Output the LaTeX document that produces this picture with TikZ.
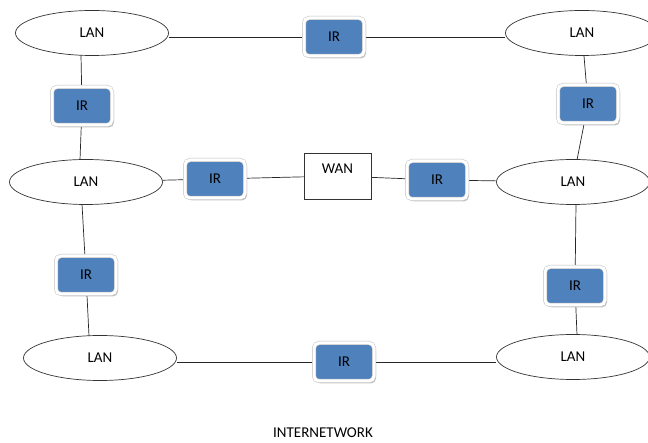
\documentclass[tikz,border=0pt]{standalone}
\usepackage{fontspec}
\setmainfont{Carlito}
\usetikzlibrary{shapes.geometric,shadows,backgrounds}
\definecolor{irblue}{HTML}{4F81BD}
\tikzset{
  lan/.style={ellipse,draw=black!80,line width=0.7pt,fill=white,minimum width=153pt,minimum height=45pt,inner sep=0pt,font=\fontsize{15}{17}\selectfont},
  irbox/.style={rectangle,rounded corners=5pt,fill=irblue,draw=black!25,double=white,double distance=3pt,line width=0.5pt,minimum width=60pt,minimum height=38pt,inner sep=0pt,font=\fontsize{15}{17}\selectfont,
    drop shadow={opacity=0.45,shadow xshift=2pt,shadow yshift=-2.5pt,fill=black!50}},
  wanbox/.style={rectangle,draw=black!80,line width=0.7pt,fill=white,minimum width=67pt,minimum height=46pt,inner sep=0pt},
  wire/.style={draw=black!85,line width=0.7pt}
}
\begin{document}
\begin{tikzpicture}[x=1pt,y=-1pt]
\useasboundingbox (0,0) rectangle (648,443);
% LANs
\node[lan] (lanTL) at (92,33) {LAN};
\node[lan] (lanTR) at (582,33) {LAN};
\node[lan] (lanML) at (86,182) {LAN};
\node[lan] (lanMR) at (573,182) {LAN};
\node[lan] (lanBL) at (100,358) {LAN};
\node[lan] (lanBR) at (573,357) {LAN};
% WAN
\node[wanbox] (wan) at (337.5,176) {};
\node[font=\fontsize{15}{17}\selectfont] (wantext) at (337.5,169) {WAN};
% IRs
\node[irbox] (irT) at (334,37) {IR};
\node[irbox] (irUL) at (82,106) {IR};
\node[irbox] (irUR) at (588,104) {IR};
\node[irbox] (irML) at (215,179) {IR};
\node[irbox] (irMR) at (437,180) {IR};
\node[irbox] (irLL) at (86,275) {IR};
\node[irbox] (irLR) at (575,286) {IR};
\node[irbox] (irB) at (344,362) {IR};
% title
\node[font=\fontsize{15}{17}\selectfont] (title) at (323,433) {INTERNETWORK};
\begin{pgfonlayer}{background}
\fill[white] (0,0) rectangle (648,443);
\draw[wire] (lanTL.east |- irT) -- (irT);
\draw[wire] (irT) -- (lanTR.west |- irT);
\draw[wire] (81,55) -- (irUL);
\draw[wire] (irUL) -- (80,160);
\draw[wire] (584,56) -- (irUR);
\draw[wire] (irUR) -- (577,160);
\draw[wire] (lanML) -- (irML);
\draw[wire] (irML) -- (wan);
\draw[wire] (wan) -- (irMR);
\draw[wire] (irMR) -- (lanMR);
\draw[wire] (82,204) -- (irLL);
\draw[wire] (irLL) -- (89,336);
\draw[wire] (576,204) -- (irLR);
\draw[wire] (irLR) -- (577,335);
\draw[wire] (lanBL.east |- irB) -- (irB);
\draw[wire] (irB) -- (lanBR.west |- irB);
\end{pgfonlayer}
\end{tikzpicture}
\end{document}
